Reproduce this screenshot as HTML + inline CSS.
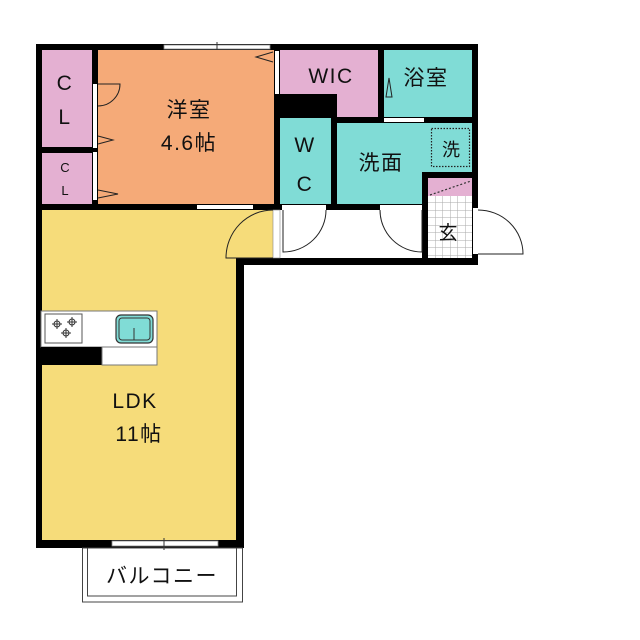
<!DOCTYPE html>
<html><head><meta charset="utf-8"><style>
html,body{margin:0;padding:0;background:#fff;}
svg{display:block;}
text{font-family:"Liberation Sans","Noto Sans CJK JP",sans-serif;fill:#111;}
</style></head><body>
<svg width="640" height="640" viewBox="0 0 640 640" xmlns="http://www.w3.org/2000/svg">
<defs>
<pattern id="grid" width="7.5" height="7.5" patternUnits="userSpaceOnUse">
<rect width="7.5" height="7.5" fill="#fff"/>
<path d="M0 0H7.5M0 0V7.5" stroke="#aaa" stroke-width="1"/>
</pattern>
</defs>
<rect x="42" y="50" width="50" height="97" fill="#e4b0d2"/>
<rect x="42" y="153" width="50" height="51" fill="#e4b0d2"/>
<rect x="98" y="50" width="176" height="154" fill="#f5aa78"/>
<rect x="280" y="50" width="98" height="67" fill="#e4b0d2"/>
<rect x="384" y="50" width="88" height="68" fill="#80dcd6"/>
<rect x="280" y="117" width="51" height="88" fill="#80dcd6"/>
<rect x="337" y="123" width="135" height="82" fill="#80dcd6"/>
<rect x="42" y="210" width="194" height="330" fill="#f6dc7a"/>
<rect x="236" y="210" width="37" height="48" fill="#f6dc7a"/>
<rect x="428" y="178" width="44" height="18" fill="#e4b0d2"/>
<rect x="428" y="196" width="44" height="62" fill="url(#grid)"/>
<line x1="430" y1="195" x2="471" y2="181" stroke="#333" stroke-dasharray="2,2" stroke-width="1.2"/>
<g fill="#000">
<rect x="36" y="44" width="442" height="6"/>
<rect x="36" y="44" width="6" height="504"/>
<rect x="472" y="44" width="6" height="221"/>
<rect x="36" y="540" width="208" height="8"/>
<rect x="236" y="258" width="8" height="290"/>
<rect x="236" y="258" width="242" height="7"/>
<rect x="36" y="147" width="62" height="6"/>
<rect x="92" y="44" width="6" height="166"/>
<rect x="36" y="204" width="240" height="6"/>
<rect x="274" y="44" width="6" height="166"/>
<rect x="274" y="94" width="63" height="24"/>
<rect x="378" y="44" width="6" height="79"/>
<rect x="337" y="117" width="141" height="6"/>
<rect x="331" y="117" width="6" height="93"/>
<rect x="274" y="204" width="154" height="6"/>
<rect x="422" y="172" width="56" height="6"/>
<rect x="422" y="172" width="6" height="93"/>
</g>
<rect x="164" y="45" width="106" height="4" fill="#fff" stroke="#888" stroke-width="0.8"/>
<line x1="217" y1="42" x2="217" y2="50" stroke="#333"/>
<rect x="93" y="84" width="4" height="116" fill="#fff"/>
<rect x="93" y="148" width="4" height="4" fill="#000"/>
<rect x="197" y="205" width="56" height="4" fill="#fff"/>
<rect x="275" y="51" width="4" height="43" fill="#fff"/>
<rect x="384" y="118" width="40" height="4" fill="#fff"/>
<rect x="282" y="205" width="44" height="5" fill="#fff"/>
<rect x="380" y="205" width="42" height="5" fill="#fff"/>
<rect x="273" y="210" width="7" height="48" fill="#fff" stroke="#888" stroke-width="0.6"/>
<rect x="473" y="208" width="5" height="46" fill="#fff"/>
<rect x="112" y="541" width="106" height="5" fill="#fff" stroke="#888" stroke-width="0.8"/>
<line x1="164" y1="538" x2="164" y2="550" stroke="#333"/>
<g fill="none" stroke="#222" stroke-width="1">
<path d="M98 84 H120 A22 22 0 0 1 98 106"/>
<path d="M98 136 L113 140 L98 144"/>
<path d="M98 190 L118 194 L98 198"/>
<path d="M273 52 L256 57 L273 62"/>
<path d="M386 97 L392 97 L389 78 Z"/>
<path d="M273 210 A47 48 0 0 0 226 258 H273"/>
<path d="M283 210 V252 A43 42 0 0 0 326 210"/>
<path d="M422 210 V252 A42 42 0 0 1 380 210"/>
<path d="M478 210 A45 44 0 0 1 523 254 H478"/>
</g>
<rect x="431.5" y="128.5" width="38" height="38" fill="none" stroke="#222" stroke-dasharray="1.5,1.5" stroke-width="1.2"/>
<rect x="41" y="311" width="116" height="36" fill="#fff" stroke="#777"/>
<rect x="41" y="347" width="61" height="18" fill="#000"/>
<rect x="102" y="347" width="55" height="18" fill="#fff" stroke="#777"/>
<rect x="45" y="314" width="37" height="29" fill="#fff" stroke="#555"/>
<g fill="none" stroke="#333" stroke-width="1">
<circle cx="57" cy="324" r="3"/><circle cx="72" cy="322" r="3"/><circle cx="66" cy="333" r="3"/>
<path d="M52 324h10M57 319v10M67 322h10M72 317v10M61 333h10M66 328v10"/>
</g>
<rect x="116" y="315" width="37" height="28" rx="5" fill="#80dcd6" stroke="#333" stroke-width="1.2"/>
<rect x="119" y="318" width="31" height="22" rx="3" fill="none" stroke="#333"/>
<line x1="134" y1="328" x2="134" y2="340" stroke="#333"/>
<rect x="82.5" y="548" width="160" height="54" fill="none" stroke="#444"/>
<rect x="87.5" y="548" width="149" height="48" fill="none" stroke="#444"/>
<g font-size="21" text-anchor="middle" letter-spacing="1.5">
<text x="65" y="90">C</text><text x="65" y="124">L</text>
<text x="189" y="117">洋室</text><text x="189" y="150">4.6帖</text>
<text x="331" y="83">WIC</text>
<text x="426" y="85">浴室</text>
<text x="305" y="152">W</text><text x="305" y="191">C</text>
<text x="381" y="170">洗面</text>
<text x="135" y="408">LDK</text><text x="139" y="441">11帖</text>
<text x="162" y="583">バルコニー</text>
</g>
<text x="65" y="172" font-size="13" text-anchor="middle">C</text>
<text x="65" y="195" font-size="13" text-anchor="middle">L</text>
<text x="451" y="156" font-size="18" text-anchor="middle">洗</text>
<text x="448" y="239" font-size="19" text-anchor="middle">玄</text>
</svg>
</body></html>
